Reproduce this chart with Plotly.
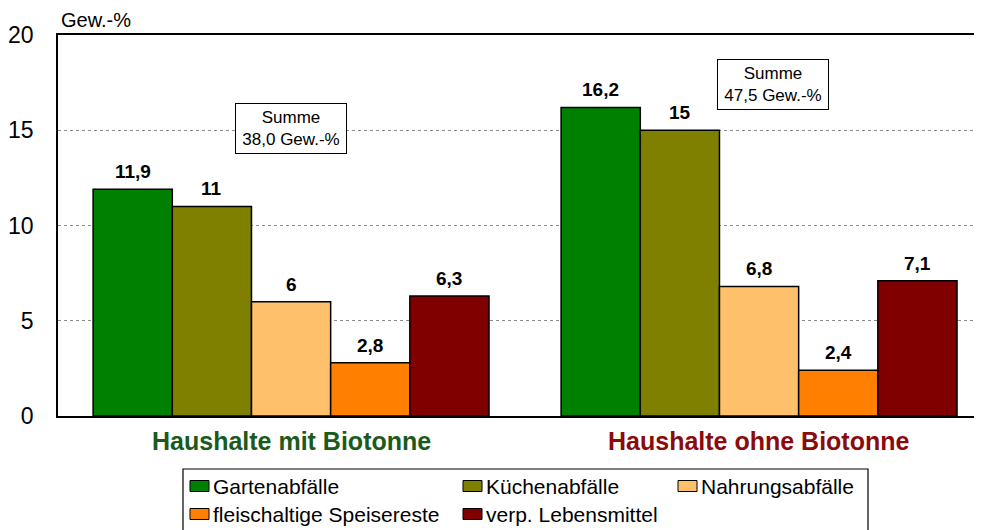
import plotly.graph_objects as go

# ---- data ----
categories = ["Haushalte mit Biotonne", "Haushalte ohne Biotonne"]
series_names = ["Gartenabfälle", "Küchenabfälle", "Nahrungsabfälle",
                "fleischaltige Speisereste", "verp. Lebensmittel"]
gartenabfaelle = [11.9, 16.2]
kuechenabfaelle = [11.0, 15.0]
nahrungsabfaelle = [6.0, 6.8]
fleischaltige = [2.8, 2.4]
verp_lebensmittel = [6.3, 7.1]
summen = ["38,0", "47,5"]
y_ticks = [0, 5, 10, 15, 20]

series_values = [gartenabfaelle, kuechenabfaelle, nahrungsabfaelle,
                 fleischaltige, verp_lebensmittel]
colors = ["#008000", "#808000", "#FFC06C", "#FF8000", "#800000"]
cat_colors = ["#1A5A1A", "#8B0A0A"]

OFF = 8  # page body margin
W, H = 982 - OFF, 530 - OFF
ML, MR, MT, MB = 50, 0, 27, 114
PW, PH = W - ML - MR, H - MT - MB
FONT = "Liberation Sans, Arial, sans-serif"
X_RANGE = [-0.498, -0.498 + PW / 468.0]


def fmt(v):
    s = ("%.1f" % v).replace(".", ",")
    return s[:-2] if s.endswith(",0") else s


def px2x(px):  # screen px -> paper x
    return (px - OFF - ML) / PW


def px2y(py):  # screen px -> paper y
    return (H - MB - (py - OFF)) / PH


bargap = 0.154
fig = go.Figure()
for name, vals, col in zip(series_names, series_values, colors):
    fig.add_trace(go.Bar(
        x=categories, y=vals, name=name,
        marker=dict(color=col, line=dict(color="black", width=1.5)),
        showlegend=False, hoverinfo="skip"))

annotations = []
n = len(series_names)
bw = (1 - bargap) / n
for i, vals in enumerate(series_values):
    for j, v in enumerate(vals):
        annotations.append(dict(
            x=j + (i - (n - 1) / 2) * bw, y=v, xref="x", yref="y",
            text="<b>%s</b>" % fmt(v), showarrow=False,
            yanchor="bottom", yshift=5,
            font=dict(family=FONT, size=19, color="black")))

# Summe boxes
summe_pos = [(0.0, 15.1), (1.03, 17.4)]
for (sx, sy), s in zip(summe_pos, summen):
    annotations.append(dict(
        x=sx, y=sy, xref="x", yref="y",
        text="Summe<br>%s Gew.-%%" % s, showarrow=False,
        bgcolor="white", bordercolor="black", borderwidth=1, borderpad=4,
        width=102,
        font=dict(family=FONT, size=17, color="black")))

# category labels
for j, c in enumerate(categories):
    annotations.append(dict(
        x=j, y=px2y(441), xref="x", yref="paper",
        text="<b>%s</b>" % c, showarrow=False, yanchor="middle",
        font=dict(family=FONT, size=25, color=cat_colors[j])))

# unit label
annotations.append(dict(
    x=px2x(59), y=px2y(20), xref="paper", yref="paper", xanchor="left",
    yanchor="middle", text="Gew.-%", showarrow=False,
    font=dict(family=FONT, size=20, color="black")))

# manual legend
shapes = [dict(type="rect", xref="paper", yref="paper",
               x0=px2x(183), x1=px2x(868), y0=px2y(469), y1=px2y(560),
               line=dict(color="black", width=1.2), fillcolor="white",
               layer="above")]
col_x = [190, 463, 678]
row_y = [486, 514]
for k, (name, col) in enumerate(zip(series_names, colors)):
    r, c = divmod(k, 3)
    x0, yc = col_x[c], row_y[r]
    shapes.append(dict(type="rect", xref="paper", yref="paper",
                       x0=px2x(x0), x1=px2x(x0 + 19),
                       y0=px2y(yc + 5.5), y1=px2y(yc - 5.5),
                       line=dict(color="black", width=1), fillcolor=col,
                       layer="above"))
    annotations.append(dict(
        x=px2x(x0 + 21), y=px2y(yc), xref="paper", yref="paper",
        xanchor="left", yanchor="middle", text=name, showarrow=False,
        font=dict(family=FONT, size=21, color="black")))

fig.update_layout(
    width=W, height=H,
    margin=dict(l=ML, r=MR, t=MT, b=MB, autoexpand=False),
    paper_bgcolor="white", plot_bgcolor="white",
    barmode="group", bargap=bargap, bargroupgap=0,
    font=dict(family=FONT, color="black"),
    xaxis=dict(range=X_RANGE, showticklabels=False, ticks="",
               showline=True, linecolor="black", linewidth=1.5,
               mirror=True, showgrid=False, zeroline=False),
    yaxis=dict(range=[0, 20], tickvals=y_ticks, ticks="",
               showline=True, linecolor="black", linewidth=1.5,
               showgrid=True, gridcolor="#8C8C8C", gridwidth=1,
               griddash="dot", zeroline=False, ticklabelstandoff=18,
               tickfont=dict(family=FONT, size=23, color="black")),
    annotations=annotations, shapes=shapes,
)

fig.write_html("out.html")
